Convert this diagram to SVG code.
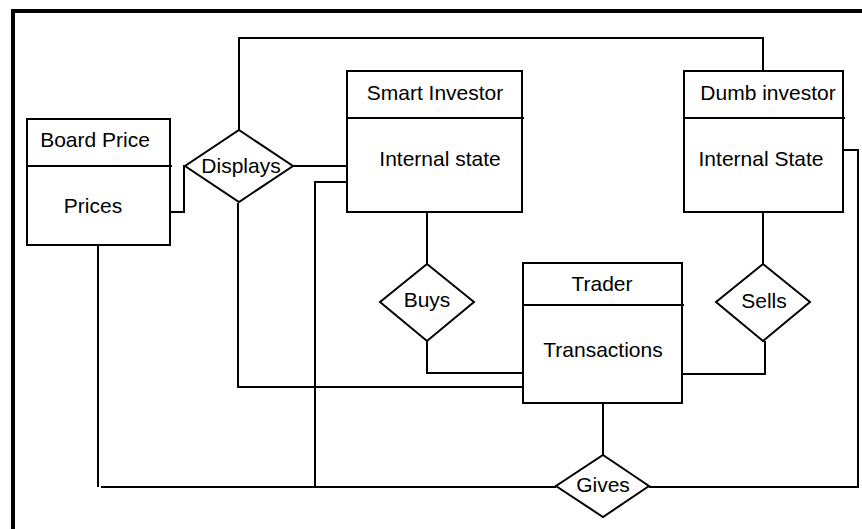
<svg xmlns="http://www.w3.org/2000/svg" width="862" height="529" viewBox="0 0 862 529">
<style>
.box{fill:#fff;stroke:#000;stroke-width:2}
.div{stroke:#000;stroke-width:2}
.dia{fill:#fff;stroke:#000;stroke-width:2}
.con{fill:none;stroke:#000;stroke-width:2}
text{font-family:"Liberation Sans",Arial,sans-serif;font-size:21px;fill:#000;text-anchor:middle}
</style>
<rect x="0" y="0" width="862" height="529" fill="#fff"/>
<path d="M13,531 V11 H866" fill="none" stroke="#000" stroke-width="4"/>
<g id="connectors">
<path class="con" d="M239,130 V38 H763 V71"/>
<path class="con" d="M170,212 H184 V166 H186"/>
<path class="con" d="M293,166 H347"/>
<path class="con" d="M347,182 H315 V487"/>
<path class="con" d="M98,245 V487"/>
<path class="con" d="M101,487 H556"/>
<path class="con" d="M238,203 V387 H523"/>
<path class="con" d="M427,212 V264"/>
<path class="con" d="M427,341 V373 H523"/>
<path class="con" d="M682,374 H765 V341"/>
<path class="con" d="M763,212 V264"/>
<path class="con" d="M843,150 H858 V487 H649"/>
<path class="con" d="M603,403 V455"/>
</g>
<g id="board-price">
<rect class="box" x="27" y="119" width="143" height="126"/>
<line class="div" x1="27" y1="166" x2="172" y2="166"/>
<text x="95" y="147">Board Price</text>
<text x="93" y="213">Prices</text>
</g>
<g id="displays">
<polygon class="dia" points="239,130 293,166 239,202 185,166"/>
<text x="241" y="173">Displays</text>
</g>
<g id="smart-investor">
<rect class="box" x="347" y="71" width="175" height="141"/>
<line class="div" x1="347" y1="118" x2="524" y2="118"/>
<text x="435" y="100">Smart Investor</text>
<text x="440" y="166">Internal state</text>
</g>
<g id="dumb-investor">
<rect class="box" x="684" y="71" width="159" height="141"/>
<line class="div" x1="684" y1="118" x2="845" y2="118"/>
<text x="768" y="100">Dumb investor</text>
<text x="761" y="166">Internal State</text>
</g>
<g id="buys">
<polygon class="dia" points="427,264 474,302 427,341 380,302"/>
<text x="427" y="307">Buys</text>
</g>
<g id="sells">
<polygon class="dia" points="763,264 810,302 763,341 716,302"/>
<text x="764" y="308">Sells</text>
</g>
<g id="trader">
<rect class="box" x="523" y="263" width="159" height="140"/>
<line class="div" x1="523" y1="305" x2="684" y2="305"/>
<text x="602" y="291">Trader</text>
<text x="603" y="357">Transactions</text>
</g>
<g id="gives">
<polygon class="dia" points="603,455 649,486 603,517 556,486"/>
<text x="603" y="492">Gives</text>
</g>
</svg>
